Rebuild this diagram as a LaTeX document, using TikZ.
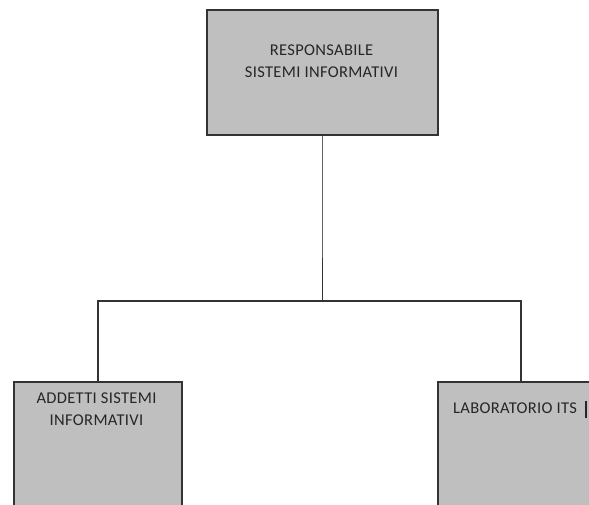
\documentclass[tikz,border=0pt]{standalone}
\usepackage{fontspec}
\setmainfont{Carlito}
\newfontfamily\lblfont[LetterSpace=2]{Carlito}
\begin{document}
\begin{tikzpicture}[x=1pt,y=1pt,
  box/.style={draw=black!80, line width=1.4pt, fill=black!25, rectangle, inner sep=0pt},
  lbl/.style={inner sep=0pt, align=center, font=\lblfont\fontsize{16.5}{22}\selectfont, text=black!85},
  conn/.style={draw=black!80, line width=1.5pt},
  connlight/.style={draw=black!62, line width=1.6pt}]
\useasboundingbox (0,0) rectangle (589,-504);
\clip (0,0) rectangle (589,-504);
% boxes
\node[box, minimum width=231pt, minimum height=125pt] (top) at (322.5,-72.5) {};
\node[box, minimum width=168pt, minimum height=140pt] (left) at (98,-452) {};
\node[box, minimum width=166pt, minimum height=140pt] (right) at (521,-452) {};
% labels
\node[lbl, anchor=north] (toplbl) at (321.5,-44.5) {RESPONSABILE\\SISTEMI INFORMATIVI};
\node[lbl, anchor=north] (leftlbl) at (96.5,-393) {ADDETTI SISTEMI\\INFORMATIVI};
\node[lbl, anchor=north west] (rightlbl) at (453,-403) {LABORATORIO ITS};
\node[inner sep=0pt, minimum width=1.6pt, minimum height=17pt, fill=black!85, anchor=west] (cursor) at (585,-409) {};
% connectors
\coordinate (hub) at (322.5,-301);
\coordinate (mid) at (322.5,-258);
\draw[connlight] (top.south) -- (mid);
\draw[conn] (mid) -- (hub);
\draw[conn] (hub) -| (left.north);
\draw[conn] (hub) -| (right.north);
\end{tikzpicture}
\end{document}
